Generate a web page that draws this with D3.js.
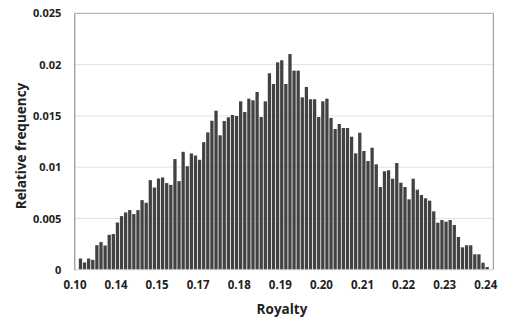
<!DOCTYPE html>
<html>
<head>
<meta charset="utf-8">
<script src="https://cdn.jsdelivr.net/npm/d3@7/dist/d3.min.js"></script>
<style>
  body { margin: 0; background: #fff; }
  text { font-family: "Open Sans", "Noto Sans", sans-serif; }
</style>
</head>
<body>
<svg id="chart" width="508" height="323"></svg>
<script>
// relative frequency per bin (bins 1..100, bins 0 and 101 are empty)
const freq = [
  0.00110, 0.00071, 0.00110, 0.00097, 0.00240, 0.00270, 0.00237, 0.00341, 0.00348, 0.00461,
  0.00523, 0.00559, 0.00582, 0.00543, 0.00582, 0.00679, 0.00653, 0.00874, 0.00802, 0.00890,
  0.00900, 0.00845, 0.00828, 0.01079, 0.00864, 0.01150, 0.01010, 0.01134, 0.01114, 0.01072,
  0.01244, 0.01339,
  0.01453, 0.01551, 0.01311, 0.01450, 0.01486, 0.01509, 0.01499, 0.01642, 0.01538, 0.01668,
  0.01652, 0.01733, 0.01489, 0.01642, 0.01915, 0.01811, 0.02022, 0.02042, 0.01811, 0.02103,
  0.01941, 0.01941, 0.01681, 0.01782, 0.01662, 0.01662, 0.01489, 0.01642, 0.01668, 0.01480,
  0.01372, 0.01421, 0.01382, 0.01382,
  0.01297, 0.01135, 0.01336, 0.01158, 0.01060, 0.01190, 0.01028, 0.00807, 0.00960, 0.00970,
  0.00888, 0.01041, 0.00849, 0.00807, 0.00687, 0.00888, 0.00781, 0.00729, 0.00697, 0.00674,
  0.00570, 0.00459, 0.00485, 0.00469, 0.00485, 0.00437, 0.00320, 0.00219, 0.00239, 0.00239,
  0.00151, 0.00151, 0.00069, 0.00027
];
const binCount = 102;
const xTickLabels = ['0.10', '0.14', '0.15', '0.17', '0.18', '0.19', '0.20', '0.21', '0.22', '0.23', '0.24'];
const yTicks = [0, 0.005, 0.01, 0.015, 0.02, 0.025];

const bins = d3.range(binCount);
const data = freq.map((v, i) => ({ bin: i + 1, value: v }));
const labelAt = {};
xTickLabels.forEach((l, k) => { labelAt[k * 10] = l; });

const margin = { top: 13.3, right: 14.7, bottom: 53.2, left: 74.3 };
const svg = d3.select('#chart');
const width = 508 - margin.left - margin.right;
const height = 323 - margin.top - margin.bottom;
const g = svg.append('g').attr('transform', `translate(${margin.left},${margin.top})`);

const x = d3.scaleBand().domain(bins).range([0, width]).paddingInner(0.2).paddingOuter(0.1);
const y = d3.scaleLinear().domain([0, 0.025]).range([height, 0]);

// gridlines
g.append('g')
  .selectAll('line')
  .data(yTicks.slice(1, -1))
  .join('line')
  .attr('x1', 0).attr('x2', width)
  .attr('y1', d => y(d)).attr('y2', d => y(d))
  .attr('stroke', '#e3e3e3');

// bars
g.append('g')
  .selectAll('rect')
  .data(data)
  .join('rect')
  .attr('x', d => x(d.bin))
  .attr('width', x.bandwidth())
  .attr('y', d => y(d.value))
  .attr('height', d => height - y(d.value))
  .attr('fill', '#424242');

// frame
g.append('line').attr('x1', 0).attr('x2', width).attr('y1', 0).attr('y2', 0).attr('stroke', '#a6a6a6');
g.append('line').attr('x1', width).attr('x2', width).attr('y1', 0).attr('y2', height).attr('stroke', '#8c8c8c');
g.append('line').attr('x1', 0).attr('x2', width).attr('y1', height).attr('y2', height).attr('stroke', '#d9d9d9');

// y axis
const yAxis = g.append('g')
  .call(d3.axisLeft(y).tickValues(yTicks).tickFormat(d => d3.format('')(d)).tickSize(0).tickPadding(13));
yAxis.select('.domain').attr('stroke', '#7f7f7f');
yAxis.selectAll('text').attr('font-size', 11).attr('font-weight', 700).attr('fill', '#222');

// x axis
const xAxis = g.append('g')
  .attr('transform', `translate(0,${height})`)
  .call(d3.axisBottom(x).tickValues(bins.filter(b => labelAt[b])).tickFormat(b => labelAt[b]).tickSize(0).tickPadding(11));
xAxis.select('.domain').remove();
xAxis.selectAll('text').attr('font-size', 11.5).attr('font-weight', 700).attr('fill', '#222')
  .attr('dx', -1.4);

// axis titles
svg.append('text')
  .attr('x', 282).attr('y', 314)
  .attr('text-anchor', 'middle')
  .attr('font-size', 13.5).attr('font-weight', 700).attr('fill', '#222')
  .text('Royalty');
svg.append('text')
  .attr('transform', 'translate(26,146) rotate(-90)')
  .attr('text-anchor', 'middle')
  .attr('font-size', 13.5).attr('font-weight', 700).attr('fill', '#222')
  .text('Relative frequency');
</script>
</body>
</html>
